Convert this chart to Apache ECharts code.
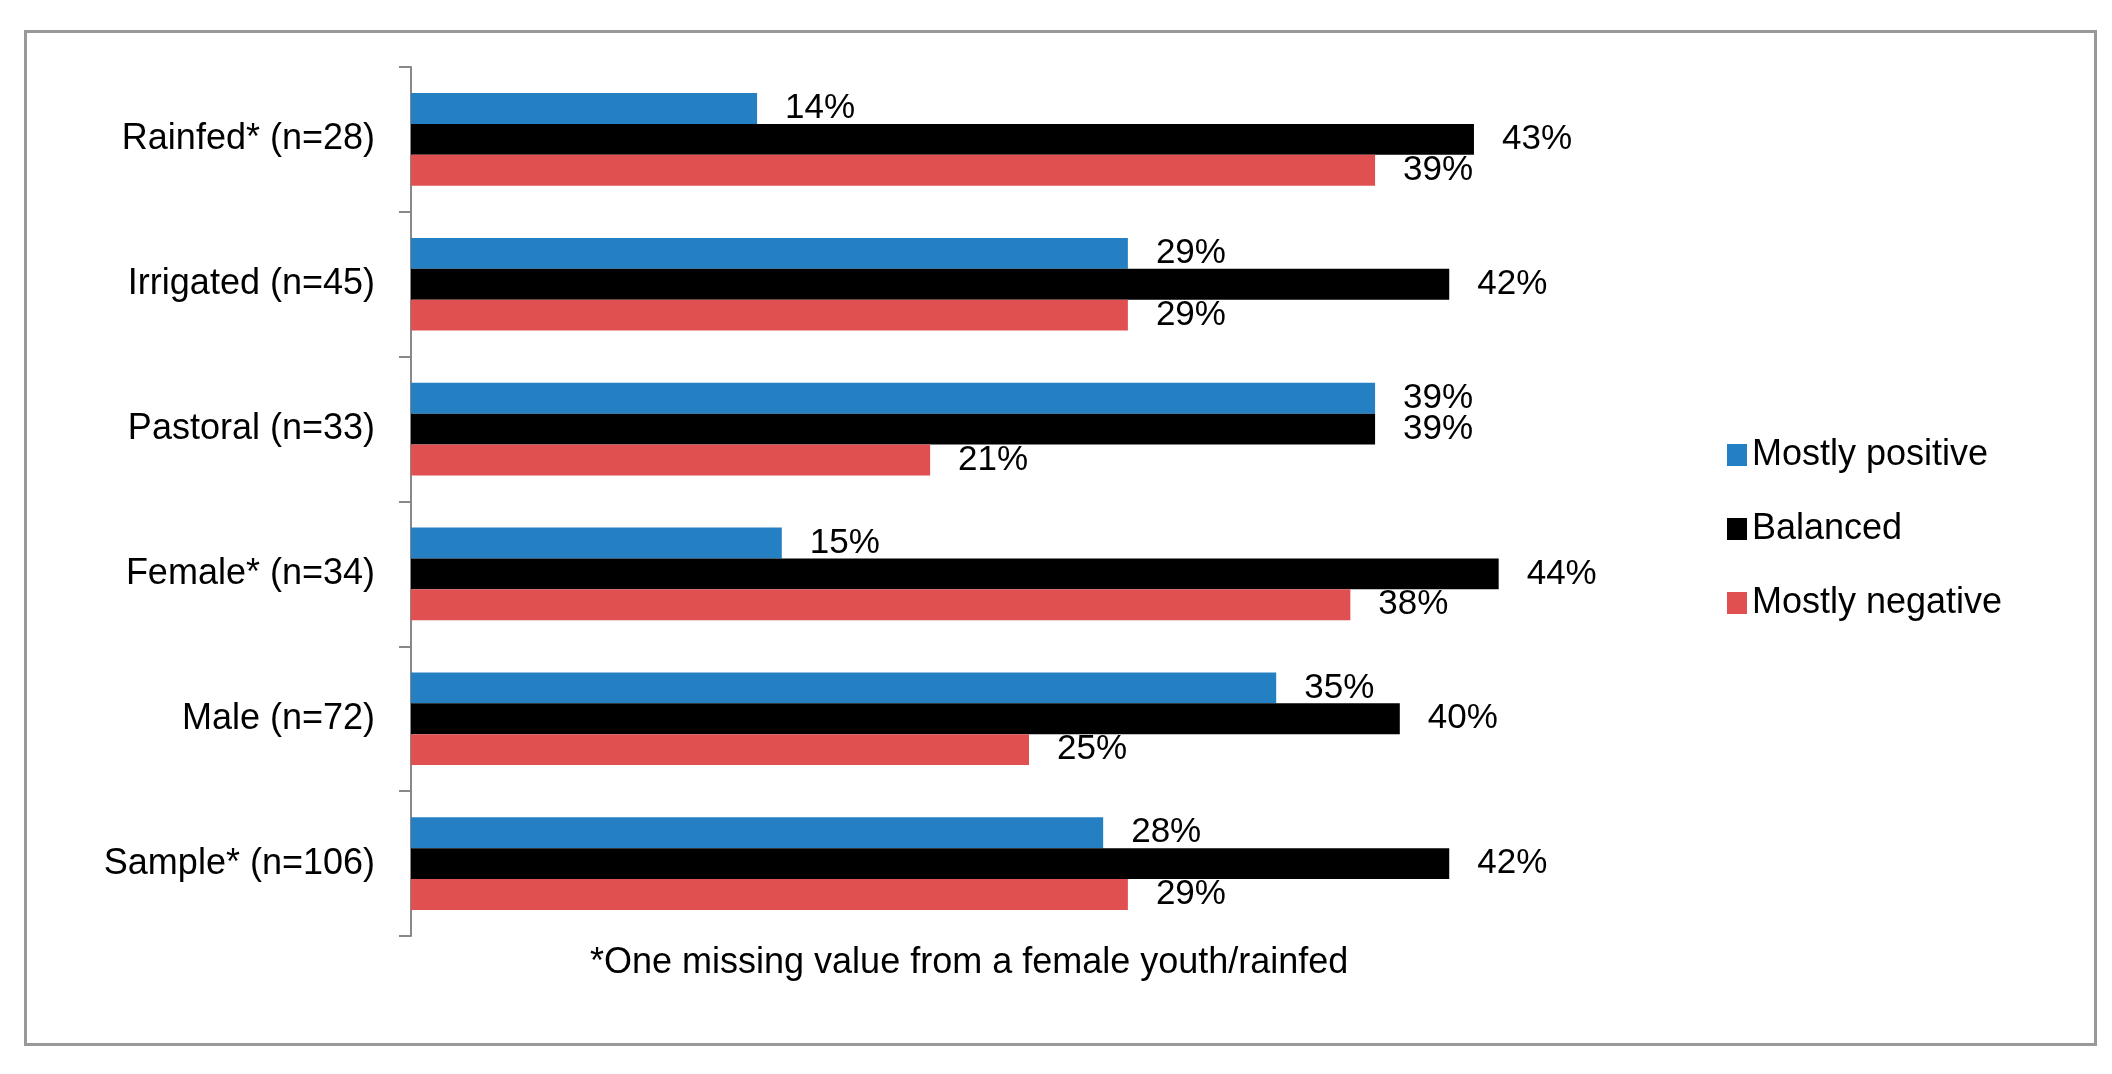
<!DOCTYPE html>
<html>
<head>
<meta charset="utf-8">
<script src="https://cdn.jsdelivr.net/npm/echarts@6/dist/echarts.min.js"></script>
<style>
html,body{margin:0;padding:0;background:#fff;}
#main{width:2112px;height:1074px;}
#frame{position:absolute;left:24px;top:30px;width:2073px;height:1016px;border:3px solid #999;box-sizing:border-box;pointer-events:none;}
</style>
</head>
<body>
<div id="main"></div>
<div id="frame"></div>
<script>
// categories top to bottom
var categories = ['Rainfed* (n=28)', 'Irrigated (n=45)', 'Pastoral (n=33)', 'Female* (n=34)', 'Male (n=72)', 'Sample* (n=106)'];
var positive = [14, 29, 39, 15, 35, 28];
var balanced = [43, 42, 39, 44, 40, 42];
var negative = [39, 29, 21, 38, 25, 29];
var seriesNames = ['Mostly positive', 'Balanced', 'Mostly negative'];
var colors = ['#2580C3', '#000000', '#E05050'];

var chart = echarts.init(document.getElementById('main'));
var font = 'Liberation Sans, Arial, sans-serif';

function mk(name, data, color) {
    return {
        name: name, type: 'bar', data: data, barGap: '0%', barCategoryGap: '36%',
        itemStyle: {color: color},
        label: {show: true, position: 'right', distance: 28, formatter: '{c}%',
                color: '#000', fontSize: 35, fontFamily: font}
    };
}

var option = {
    animation: false,
    grid: {left: 411, right: 2112 - 1647, top: 67, bottom: 1074 - 936},
    legend: {
        orient: 'vertical', left: 1722, top: 432, itemGap: 38,
        itemWidth: 20, itemHeight: 22, icon: 'rect',
        textStyle: {fontSize: 36, fontFamily: font, color: '#000'},
        data: seriesNames
    },
    xAxis: {type: 'value', min: 0, max: 50, show: false},
    yAxis: {
        type: 'category', data: categories, inverse: true,
        axisLine: {show: true, lineStyle: {color: '#888', width: 2}},
        axisTick: {show: true, length: 12, lineStyle: {color: '#888', width: 2}},
        axisLabel: {fontSize: 36, fontFamily: font, color: '#000', margin: 36}
    },
    graphic: [{
        type: 'text', left: 590, top: 945,
        style: {text: '*One missing value from a female youth/rainfed', fontSize: 36, fontFamily: font, fill: '#000'}
    }],
    series: [
        mk(seriesNames[0], positive, colors[0]),
        mk(seriesNames[1], balanced, colors[1]),
        mk(seriesNames[2], negative, colors[2])
    ]
};
chart.setOption(option);
</script>
</body>
</html>
